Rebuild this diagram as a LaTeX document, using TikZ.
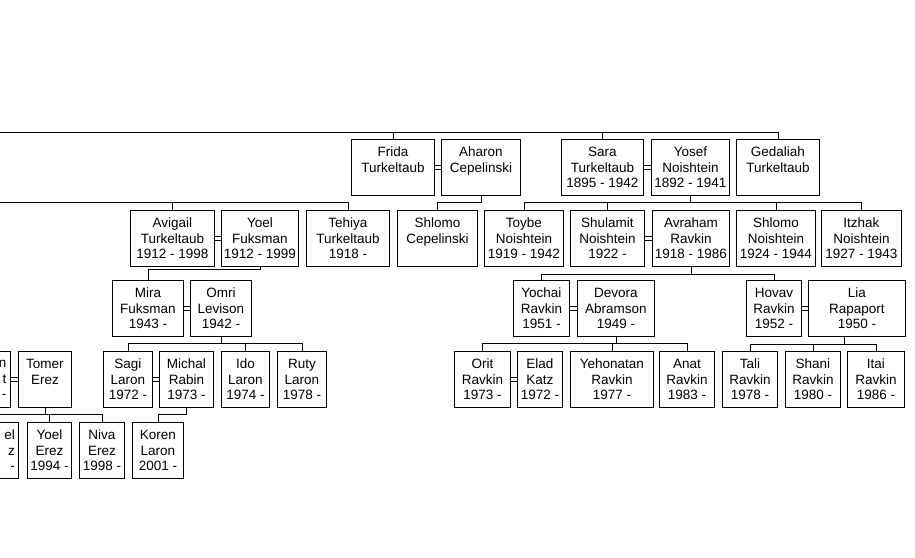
\documentclass[tikz,border=0pt]{standalone}
\usepackage{fontspec}
\setmainfont{Liberation Sans}
\usepackage{tikz}

\tikzset{
	person/.style={draw, anchor=north west, minimum height=56, inner sep=1.5pt, align=center, font=\fontsize{13.5}{15.5}\selectfont},
	spouse/.style={line width=.8pt}
}

\begin{document}
\begin{tikzpicture}[x=1pt, y=-1pt, line width=.9pt]

	\useasboundingbox (0,0) rectangle (915,557);
	\clip (0,0) rectangle (915,557);

	\node[person, minimum width=83] (frida) at (351,139) {Frida\\Turkeltaub\\\mbox{}};
	\node[person, minimum width=79] (aharon) at (441,139) {Aharon\\Cepelinski\\\mbox{}};
	\node[person, minimum width=82] (sara) at (561,139) {Sara\\Turkeltaub\\1895 - 1942};
	\node[person, minimum width=78] (yosef) at (651,139) {Yosef\\Noishtein\\1892 - 1941};
	\node[person, minimum width=83] (gedaliah) at (736,139) {Gedaliah\\Turkeltaub\\\mbox{}};

	\node[person, minimum width=84] (avigail) at (130,210) {Avigail\\Turkeltaub\\1912 - 1998};
	\node[person, minimum width=77] (yoelf) at (221,210) {Yoel\\Fuksman\\1912 - 1999};
	\node[person, minimum width=83] (tehiya) at (306,210) {Tehiya\\Turkeltaub\\1918 -};
	\node[person, minimum width=80] (shlomoc) at (397,210) {Shlomo\\Cepelinski\\\mbox{}};
	\node[person, minimum width=79] (toybe) at (484,210) {Toybe\\Noishtein\\1919 - 1942};
	\node[person, minimum width=74] (shulamit) at (570,210) {Shulamit\\Noishtein\\1922 -};
	\node[person, minimum width=77] (avraham) at (652,210) {Avraham\\Ravkin\\1918 - 1986};
	\node[person, minimum width=79] (shlomon) at (736,210) {Shlomo\\Noishtein\\1924 - 1944};
	\node[person, minimum width=80] (itzhak) at (821,210) {Itzhak\\Noishtein\\1927 - 1943};

	\node[person, minimum width=71] (mira) at (112,280) {Mira\\Fuksman\\1943 -};
	\node[person, minimum width=61] (omri) at (190,280) {Omri\\Levison\\1942 -};
	\node[person, minimum width=56] (yochai) at (513,280) {Yochai\\Ravkin\\1951 -};
	\node[person, minimum width=77] (devora) at (577,280) {Devora\\Abramson\\1949 -};
	\node[person, minimum width=55] (hovav) at (746,280) {Hovav\\Ravkin\\1952 -};
	\node[person, minimum width=97] (lia) at (808,280) {Lia\\Rapaport\\1950 -};

	\node[person, minimum width=55, text width=47, align=right] (prevbox) at (-45,351) {n\\t\\-};
	\node[person, minimum width=53] (tomer) at (18,351) {Tomer\\Erez\\\mbox{}};
	\node[person, minimum width=49] (sagi) at (103,351) {Sagi\\Laron\\1972 -};
	\node[person, minimum width=54] (michal) at (159,351) {Michal\\Rabin\\1973 -};
	\node[person, minimum width=48] (ido) at (221,351) {Ido\\Laron\\1974 -};
	\node[person, minimum width=49] (ruty) at (277,351) {Ruty\\Laron\\1978 -};
	\node[person, minimum width=56] (orit) at (454,351) {Orit\\Ravkin\\1973 -};
	\node[person, minimum width=45] (elad) at (517,351) {Elad\\Katz\\1972 -};
	\node[person, minimum width=83] (yehonatan) at (570,351) {Yehonatan\\Ravkin\\1977 -};
	\node[person, minimum width=55] (anat) at (659,351) {Anat\\Ravkin\\1983 -};
	\node[person, minimum width=55] (tali) at (722,351) {Tali\\Ravkin\\1978 -};
	\node[person, minimum width=55] (shani) at (785,351) {Shani\\Ravkin\\1980 -};
	\node[person, minimum width=57] (itai) at (847,351) {Itai\\Ravkin\\1986 -};

	\node[person, minimum width=45, text width=38, align=right] (prevkid) at (-27,422) {el\\z\\-};
	\node[person, minimum width=44] (yoele) at (27,422) {Yoel\\Erez\\1994 -};
	\node[person, minimum width=45] (niva) at (79,422) {Niva\\Erez\\1998 -};
	\node[person, minimum width=51] (koren) at (132,422) {Koren\\Laron\\2001 -};

	\coordinate (top) at (0,132);
	\coordinate (left) at (0,202);
	\coordinate (low) at (0,414);

	\draw (top) -| (gedaliah.north);
	\draw (frida.north) -- (frida.north |- top);
	\draw (sara.north) -- (sara.north |- top);

	\draw (left) -| (tehiya.north);
	\draw (avigail.north) -- (avigail.north |- left);
	\draw (aharon.south) -- ++(0,7) -| (shlomoc.north);
	\draw (yosef.south) -- ++(0,7);
	\draw (toybe.north) -- ++(0,-8) -| (itzhak.north);
	\draw (shulamit.north) -- ++(0,-8);
	\draw (shlomon.north) -- ++(0,-8);

	\draw (yoelf.south) -- ++(0,3) -| (mira.north);
	\draw (avraham.south) -- ++(0,8);
	\draw (yochai.north) -- ++(0,-6) -| (hovav.north);

	\draw (omri.south) -- ++(0,7);
	\draw (sagi.north) -- ++(0,-8) -| (ruty.north);
	\draw (ido.north) -- ++(0,-8);
	\draw (devora.south) -- ++(0,7);
	\draw (orit.north) -- ++(0,-8) -| (anat.north);
	\draw (yehonatan.north) -- ++(0,-8);
	\draw ([xshift=-13]lia.south) -- ++(0,8);
	\draw (tali.north) -- ++(0,-7) -| (itai.north);
	\draw (shani.north) -- ++(0,-7);

	\draw (low) -| (niva.north);
	\draw (tomer.south) -- ++(0,7);
	\draw (yoele.north) -- ++(0,-8);
	\draw (michal.south) -- ++(0,7) -| (koren.north);

	\foreach \a/\b in {frida/aharon, sara/yosef, avigail/yoelf, shulamit/avraham, mira/omri, yochai/devora, hovav/lia, prevbox/tomer, sagi/michal, orit/elad}
		\draw[spouse] ([yshift=2.2]\a.east) -- ([yshift=2.2]\b.west) ([yshift=-2.2]\a.east) -- ([yshift=-2.2]\b.west);
\end{tikzpicture}
\end{document}
